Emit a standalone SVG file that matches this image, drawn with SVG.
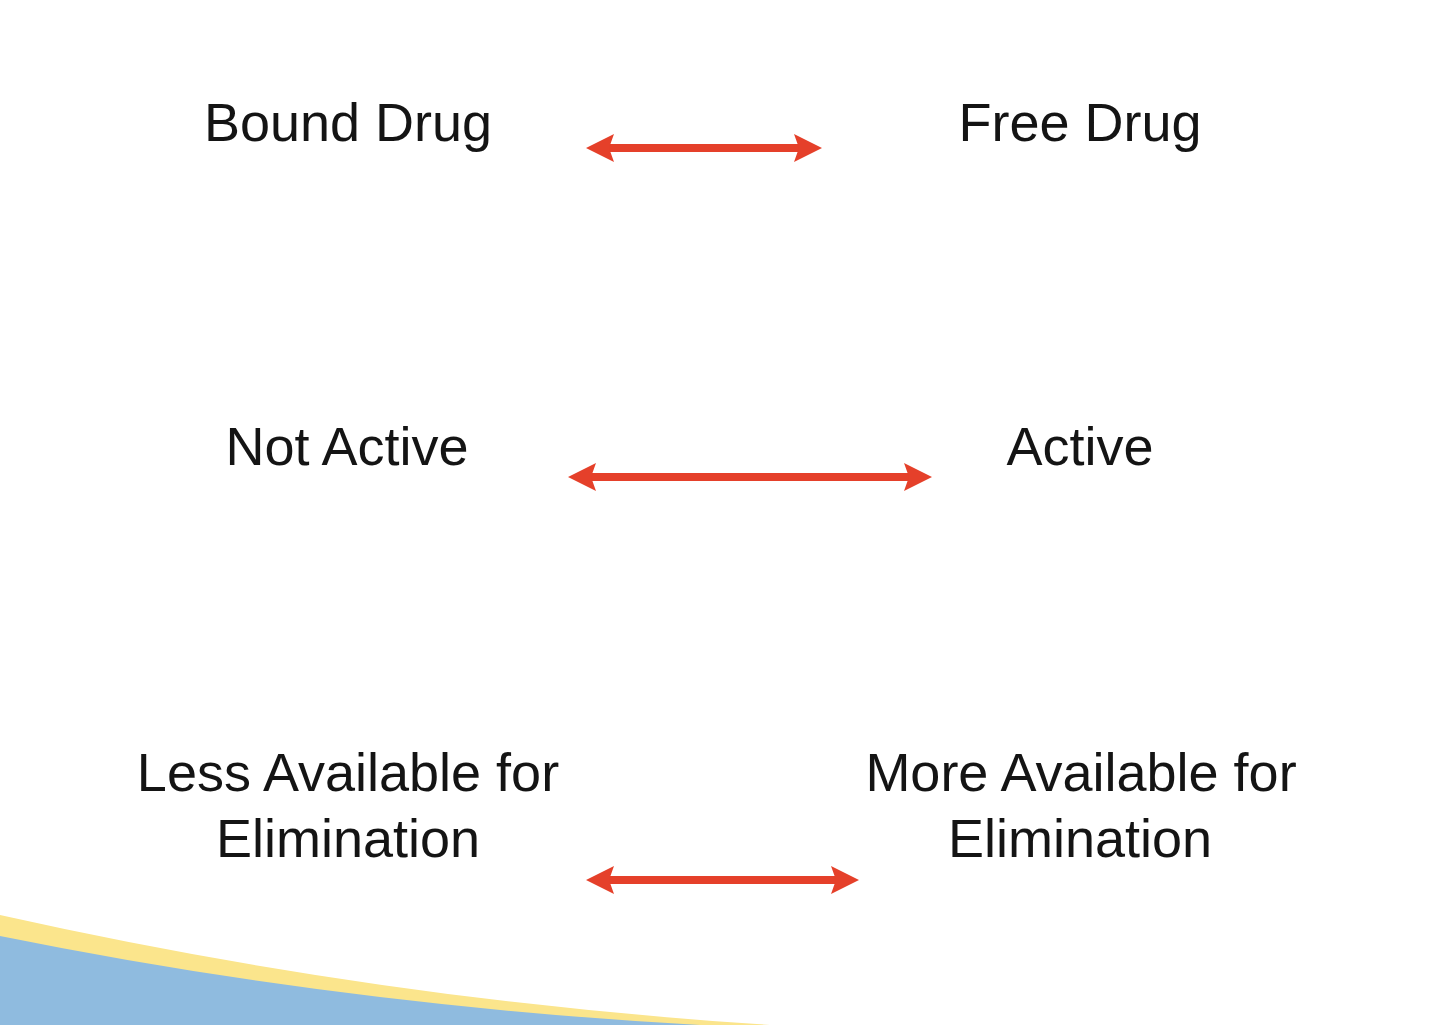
<svg xmlns="http://www.w3.org/2000/svg" width="1440" height="1025" viewBox="0 0 1440 1025">
<style>
.t{font-family:"Liberation Sans",Arial,sans-serif;font-size:54px;fill:#141414;text-anchor:middle}
.c{stroke:#e5402a;stroke-width:8;fill:none}
</style>
<defs>
<marker id="ah" viewBox="0 0 28 28" refX="5" refY="14" markerWidth="28" markerHeight="28" markerUnits="userSpaceOnUse" orient="auto-start-reverse">
<path d="M0,0 L28,14 L0,28 L5,14 Z" fill="#e5402a"/>
</marker>
</defs>
<rect width="1440" height="1025" fill="#ffffff"/>
<g id="background">
<path d="M0,915 Q380,1000 770,1025 L0,1025 Z" fill="#fbe58c"/>
<path d="M0,936 Q340,1005 700,1025 L0,1025 Z" fill="#8fbbdf"/>
</g>
<g id="connectors">
<line class="c" x1="609" y1="148" x2="799" y2="148" marker-start="url(#ah)" marker-end="url(#ah)"/>
<line class="c" x1="591" y1="477" x2="909" y2="477" marker-start="url(#ah)" marker-end="url(#ah)"/>
<line class="c" x1="609" y1="880" x2="836" y2="880" marker-start="url(#ah)" marker-end="url(#ah)"/>
</g>
<g id="bound"><text class="t" x="348" y="141">Bound Drug</text></g>
<g id="free"><text class="t" x="1080" y="141">Free Drug</text></g>
<g id="notactive"><text class="t" x="347" y="465">Not Active</text></g>
<g id="active"><text class="t" x="1080" y="465">Active</text></g>
<g id="less"><text class="t" x="348" y="791">Less Available for</text><text class="t" x="348" y="857">Elimination</text></g>
<g id="more"><text class="t" x="1081" y="791">More Available for</text><text class="t" x="1080" y="857">Elimination</text></g>
</svg>
